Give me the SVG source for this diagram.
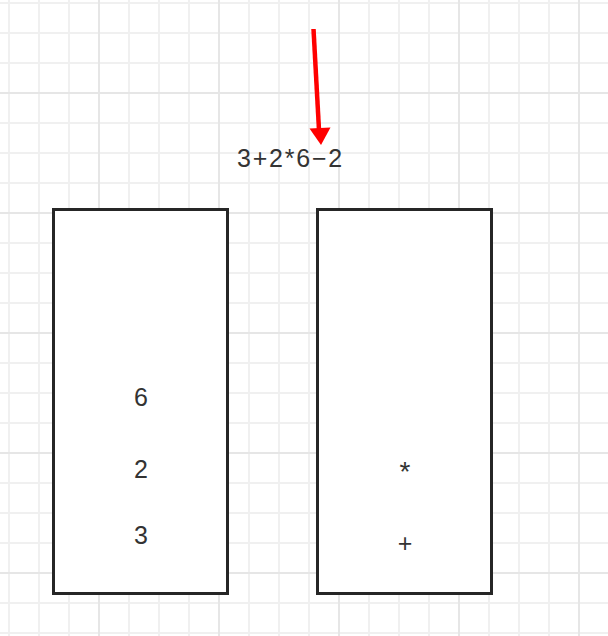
<svg xmlns="http://www.w3.org/2000/svg" width="608" height="636" viewBox="0 0 608 636">
<defs>
<style>
.minor{stroke:#f0f0f0;stroke-width:2;fill:none}
.major{stroke:#e6e6e6;stroke-width:2;fill:none}
.box{fill:#ffffff;stroke:#262626;stroke-width:3}
.t{font-family:"Liberation Sans",Arial,sans-serif;font-size:25px;fill:#333333;text-anchor:middle}
</style>
</defs>
<rect width="608" height="636" fill="#ffffff"/>
<g id="grid">
<path class="minor" d="M9 0V636M39 0V636M69 0V636M129 0V636M159 0V636M189 0V636M249 0V636M279 0V636M309 0V636M369 0V636M399 0V636M429 0V636M489 0V636M519 0V636M549 0V636
M0 3H608M0 33H608M0 63H608M0 123H608M0 153H608M0 183H608M0 243H608M0 273H608M0 303H608M0 363H608M0 393H608M0 423H608M0 483H608M0 513H608M0 543H608M0 603H608M0 633H608"/>
<path class="major" d="M99 0V636M219 0V636M339 0V636M459 0V636M579 0V636M0 93H608M0 213H608M0 333H608M0 453H608M0 573H608"/>
</g>
<g id="connectors">
<line x1="313.5" y1="29" x2="319" y2="130" stroke="#ff0000" stroke-width="4.5"/>
<polygon points="321,145 330.5,127.4 309.5,128.6" fill="#ff0000"/>
</g>
<g id="expr">
<text class="t" x="290.5" y="167" letter-spacing="1.8">3+2*6−2</text>
</g>
<g id="stack-left">
<rect class="box" x="53.5" y="209.5" width="174" height="384"/>
<text class="t" x="141" y="406">6</text>
<text class="t" x="141" y="478">2</text>
<text class="t" x="141" y="544">3</text>
</g>
<g id="stack-right">
<rect class="box" x="317.5" y="209.5" width="174" height="384"/>
<text class="t" x="405" y="481" style="font-size:28px">*</text>
<text class="t" x="405" y="552">+</text>
</g>
</svg>
